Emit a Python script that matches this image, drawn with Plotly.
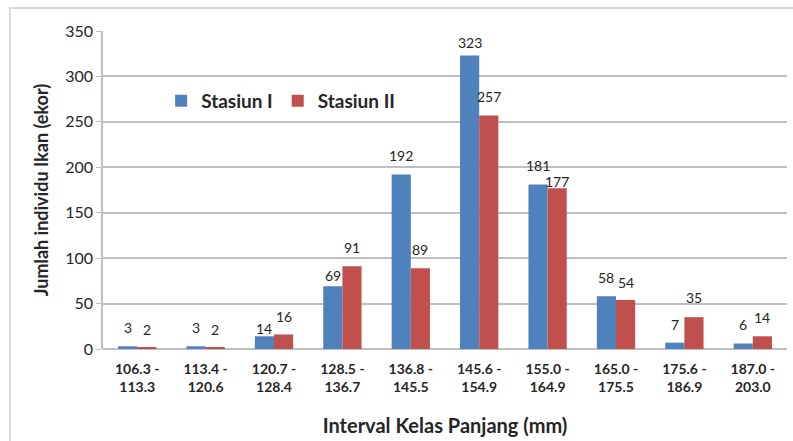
import plotly.graph_objects as go

# Length-class intervals (mm) and fish counts per station
categories = ["106.3 -<br>113.3", "113.4 -<br>120.6", "120.7 -<br>128.4", "128.5 -<br>136.7",
              "136.8 -<br>145.5", "145.6 -<br>154.9", "155.0 -<br>164.9", "165.0 -<br>175.5",
              "175.6 -<br>186.9", "187.0 -<br>203.0"]
stasiun_1 = [3, 3, 14, 69, 192, 323, 181, 58, 7, 6]
stasiun_2 = [2, 2, 16, 91, 89, 257, 177, 54, 35, 14]
y_ticks = [0, 50, 100, 150, 200, 250, 300, 350]

# Vertical lift (px) of each value label above its bar
lift_1 = [19, 19, 8, 11, 19, 13, 19, 19, 18, 19]
lift_2 = [18, 18, 18, 19, 19, 19, 7, 17, 20, 19]

FONT = "Lato"
TXT = "#262626"
BARGAP = 0.44
half = (1 - BARGAP) / 4  # offset of each bar centre from its category centre

fig = go.Figure()
fig.add_trace(go.Bar(x=categories, y=stasiun_1, name="Stasiun I",
                     marker=dict(color="#4F81BD", line=dict(width=0))))
fig.add_trace(go.Bar(x=categories, y=stasiun_2, name="Stasiun II",
                     marker=dict(color="#C0504D", line=dict(width=0))))

annotations = []
for i, (v1, v2) in enumerate(zip(stasiun_1, stasiun_2)):
    for x, v, lift in ((i - half, v1, lift_1[i]), (i + half, v2, lift_2[i])):
        annotations.append(dict(x=x, y=v, xref="x", yref="y", text=str(v),
                                showarrow=False, yanchor="middle", yshift=lift,
                                font=dict(family=FONT, size=14, color=TXT)))

fig.update_layout(
    width=793, height=441,
    margin=dict(l=103, r=6, t=31, b=92),
    paper_bgcolor="white", plot_bgcolor="white",
    barmode="group", bargap=BARGAP, bargroupgap=0,
    font=dict(family=FONT, color=TXT),
    showlegend=True,
    legend=dict(orientation="h", x=0.085, y=0.78, xanchor="left", yanchor="middle",
                font=dict(family=FONT, size=19, color=TXT, weight="bold"),
                bgcolor="rgba(0,0,0,0)", itemwidth=30, traceorder="normal"),
    xaxis=dict(
        tickfont=dict(family=FONT, size=14, color=TXT, weight="bold"),
        showline=False, ticks="", showgrid=False, ticklabelstandoff=10,
        title=dict(text="Interval Kelas Panjang (mm)",
                   font=dict(family=FONT, size=20, color=TXT, weight="bold"),
                   standoff=24),
    ),
    yaxis=dict(
        range=[0, 350], tickvals=y_ticks, ticktext=[str(v) for v in y_ticks],
        tickfont=dict(family=FONT, size=16, color=TXT),
        showgrid=True, gridcolor="#BFBFBF", gridwidth=1.5,
        showline=True, linecolor="#BFBFBF", linewidth=1.5,
        zeroline=True, zerolinecolor="#BFBFBF", zerolinewidth=1.5,
        ticks="outside", ticklen=5, tickcolor="#BFBFBF",
        title=dict(text="Jumlah individu Ikan (ekor)",
                   font=dict(family=FONT, size=18, color=TXT, weight="bold"),
                   standoff=12),
    ),
    annotations=annotations,
    shapes=[dict(type="rect", xref="paper", yref="paper",
                 x0=-0.136, x1=1.02, y0=-0.35, y1=1.072,
                 line=dict(color="#D9D9D9", width=2), fillcolor="rgba(0,0,0,0)",
                 layer="below")],
)

fig.write_html("out.html")
